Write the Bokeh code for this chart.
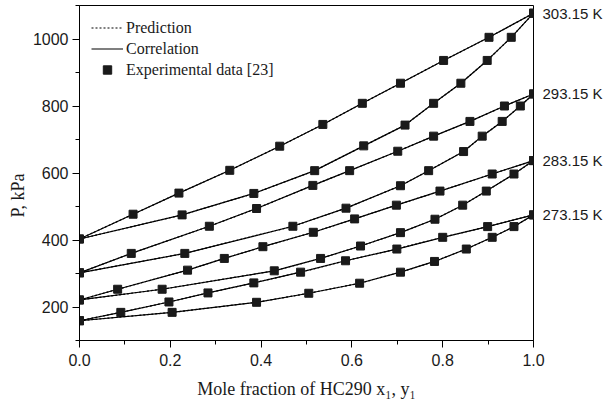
from bokeh.plotting import figure
from bokeh.models import (ColumnDataSource, Range1d, SingleIntervalTicker, NumeralTickFormatter,
                          FixedTicker, LinearAxis, Legend, LegendItem)
from bokeh.embed import file_html
from bokeh.resources import INLINE

# ---------------- data ----------------
temps = ["303.15 K", "293.15 K", "283.15 K", "273.15 K"]

x_303 = [0.0, 0.118, 0.219, 0.331, 0.441, 0.536, 0.623, 0.707, 0.802, 0.902, 1.0]
px_303 = [403, 477, 540, 608, 680, 745, 808, 868, 936, 1005, 1077]
y_303 = [0.0, 0.226, 0.384, 0.518, 0.626, 0.717, 0.780, 0.840, 0.898, 0.951, 1.0]
py_303 = [403, 475, 539, 607, 681, 743, 808, 868, 936, 1005, 1077]

x_293 = [0.0, 0.114, 0.286, 0.390, 0.514, 0.595, 0.701, 0.780, 0.860, 0.936, 1.0]
px_293 = [302, 360, 441, 494, 563, 607, 665, 710, 754, 800, 836]
y_293 = [0.0, 0.232, 0.470, 0.587, 0.707, 0.769, 0.846, 0.887, 0.931, 0.971, 1.0]
py_293 = [302, 360, 441, 495, 562, 607, 664, 710, 754, 800, 836]

x_283 = [0.0, 0.084, 0.238, 0.319, 0.404, 0.515, 0.606, 0.698, 0.794, 0.909, 1.0]
px_283 = [221, 253, 310, 345, 380, 423, 463, 504, 546, 597, 637]
y_283 = [0.0, 0.182, 0.429, 0.531, 0.619, 0.707, 0.783, 0.844, 0.896, 0.957, 1.0]
py_283 = [221, 253, 308, 345, 382, 422, 462, 504, 546, 597, 637]

x_273 = [0.0, 0.091, 0.197, 0.283, 0.384, 0.487, 0.586, 0.699, 0.800, 0.899, 1.0]
px_273 = [159, 184, 215, 242, 272, 304, 338, 373, 408, 440, 475]
y_273 = [0.0, 0.204, 0.390, 0.505, 0.617, 0.707, 0.782, 0.852, 0.909, 0.957, 1.0]
py_273 = [159, 184, 214, 241, 271, 304, 336, 373, 408, 440, 475]

end_pressures = [px_303[-1], px_293[-1], px_283[-1], px_273[-1]]

curves = [(x_303, px_303), (y_303, py_303), (x_293, px_293), (y_293, py_293),
          (x_283, px_283), (y_283, py_283), (x_273, px_273), (y_273, py_273)]

# ---------------- figure ----------------
SERIF = "Liberation Serif"
SANS = "Liberation Sans"
INK = "#1a1a1a"
NB = "\u00a0"

p = figure(width=609, height=405, output_backend="svg", toolbar_location=None,
           x_range=Range1d(0, 1), y_range=Range1d(100, 1100),
           min_border_left=79, min_border_right=76, min_border_top=5, min_border_bottom=65)
p.grid.visible = False
p.outline_line_color = "black"
p.outline_line_width = 1
p.background_fill_color = "white"
p.border_fill_color = "white"

p.xaxis.ticker = SingleIntervalTicker(interval=0.2, num_minor_ticks=2)
p.yaxis.ticker = SingleIntervalTicker(interval=200, num_minor_ticks=2)
p.xaxis.formatter = NumeralTickFormatter(format="0.0")
for ax in (p.xaxis, p.yaxis):
    ax.axis_line_color = "black"
    ax.major_tick_line_color = "black"
    ax.minor_tick_line_color = "black"
    ax.major_tick_out = 7
    ax.major_tick_in = 0
    ax.minor_tick_out = 4
    ax.minor_tick_in = 0
    ax.major_label_text_font = SANS
    ax.major_label_text_font_size = "16px"
    ax.major_label_text_color = INK
    ax.axis_label_text_font = SERIF
    ax.axis_label_text_font_size = "18px"
    ax.axis_label_text_font_style = "normal"
    ax.axis_label_text_color = INK

p.xaxis.major_label_standoff = 6
p.yaxis.major_label_standoff = 4
p.xaxis.axis_label = "Mole fraction of HC290 x\u2081, y\u2081"
p.xaxis.axis_label_standoff = 10
p.yaxis.axis_label = "P, kPa" + NB * 10
p.yaxis.axis_label_standoff = 2

# temperature labels on the right, as a tick-less axis
right = LinearAxis(ticker=FixedTicker(ticks=end_pressures),
                   major_label_overrides={v: t for v, t in zip(end_pressures, temps)},
                   axis_line_alpha=0, major_tick_out=0, major_tick_in=0,
                   minor_tick_out=0, minor_tick_in=0,
                   major_label_standoff=9, major_label_text_font=SANS,
                   major_label_text_font_size="15px", major_label_text_color=INK)
p.add_layout(right, "right")

# lines and points
pred_r = None
corr_r = None
pts_r = None
for xs, ps in curves:
    src = ColumnDataSource(dict(x=xs, p=ps))
    r1 = p.line("x", "p", source=src, line_color="black", line_width=1.2, line_dash="2 2")
    r2 = p.line("x", "p", source=src, line_color="black", line_width=1.2)
    r3 = p.scatter("x", "p", source=src, marker="square", size=8,
                   fill_color=INK, line_color=INK)
    pred_r, corr_r, pts_r = pred_r or r1, corr_r or r2, pts_r or r3

# legend
legend = Legend(items=[LegendItem(label="Prediction", renderers=[pred_r]),
                       LegendItem(label="Correlation", renderers=[corr_r]),
                       LegendItem(label="Experimental data [23]", renderers=[pts_r])],
                location="top_left", margin=0, padding=12, spacing=0,
                glyph_width=32, glyph_height=21, label_height=21, label_standoff=3,
                label_text_font=SERIF, label_text_font_size="16px", label_text_color=INK,
                background_fill_alpha=0, border_line_alpha=0)
p.add_layout(legend)

open("out.html", "w").write(file_html(p, INLINE))
